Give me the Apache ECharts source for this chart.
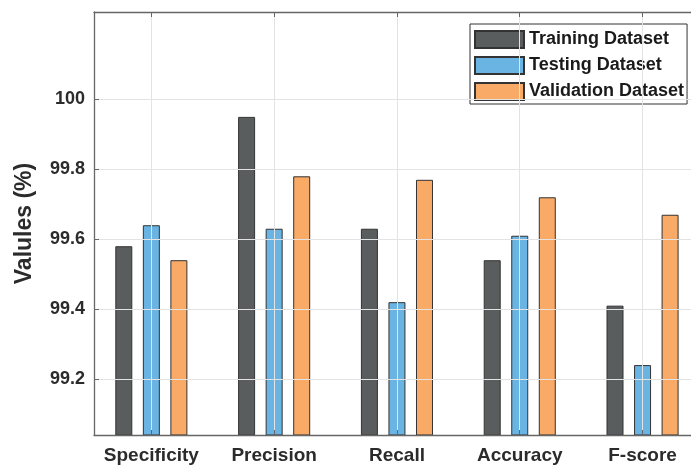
<!DOCTYPE html>
<html>
<head>
<meta charset="utf-8">
<script src="https://cdn.jsdelivr.net/npm/echarts@6/dist/echarts.min.js"></script>
<style>
    html, body { margin: 0; padding: 0; background: #fff; overflow: hidden; }
    #myCharts { width: 691px; height: 467px; }
</style>
</head>
<body>
<div id="myCharts"></div>
<script>
    // data
    const categories = ['Specificity', 'Precision', 'Recall', 'Accuracy', 'F-score'];
    const training = [99.58, 99.95, 99.63, 99.54, 99.41];
    const testing = [99.64, 99.63, 99.42, 99.61, 99.24];
    const validation = [99.54, 99.78, 99.77, 99.72, 99.67];
    const yTicks = [99.2, 99.4, 99.6, 99.8, 100];
    const xPos = [1, 2, 3, 4, 5];

    function pairs(vals) {
        return vals.map(function (v, i) { return [xPos[i], v]; });
    }

    const myCharts = echarts.init(document.getElementById('myCharts'));
    const frame = '#666';
    const txt = '#2b2b2b';
    const font = 'Liberation Sans, Arial, sans-serif';

    function barSeries(name, vals, color) {
        return {
            name: name,
            type: 'bar',
            xAxisIndex: 0,
            data: pairs(vals),
            barWidth: 17,
            barGap: '62%',
            animation: false,
            itemStyle: { color: color, borderColor: '#333', borderWidth: 1 }
        };
    }

    let options = {
        backgroundColor: '#fff',
        textStyle: { fontFamily: font },
        // the axes run past the right edge of the picture (it was cropped)
        grid: { left: 94, top: 12, width: 614, height: 423, containLabel: false, outerBoundsMode: 'none' },
        legend: {
            orient: 'vertical',
            left: 470, top: 24,
            padding: [6, 3, 3, 4],
            itemWidth: 49, itemHeight: 17, itemGap: 7,
            backgroundColor: '#fff',
            borderColor: '#333', borderWidth: 1, borderRadius: 0,
            icon: 'rect',
            textStyle: { fontSize: 18, lineHeight: 17, fontWeight: 'bold', color: '#1a1a1a', fontFamily: font },
            data: ['Training Dataset', 'Testing Dataset', 'Validation Dataset']
        },
        xAxis: [
            {   // bottom axis with category names
                type: 'value', position: 'bottom',
                min: 0.533, max: 5.533, z: 5,
                axisLine: { lineStyle: { color: frame, width: 1.3 } },
                axisTick: { show: true, inside: true, length: 5, customValues: xPos, lineStyle: { color: frame } },
                axisLabel: {
                    customValues: xPos, margin: 11,
                    fontSize: 19, fontWeight: 'bold', color: txt, fontFamily: font,
                    formatter: function (v) { return categories[Math.round(v) - 1]; }
                },
                splitLine: { show: true, lineStyle: { color: '#e3e3e3', width: 1 } }
            },
            {   // top frame
                type: 'value', position: 'top',
                min: 0.533, max: 5.533, z: 5,
                axisLine: { show: true, lineStyle: { color: frame, width: 1.3 } },
                axisTick: { show: true, inside: true, length: 5, customValues: xPos, lineStyle: { color: frame } },
                axisLabel: { show: false },
                splitLine: { show: false }
            }
        ],
        yAxis: {
            type: 'value',
            min: 99.04, max: 100.25, z: 5,
            name: 'Valules (%)',
            nameLocation: 'middle', nameRotate: 90, nameGap: 58,
            nameTextStyle: { fontSize: 23, fontWeight: 'bold', color: txt, fontFamily: font },
            axisLine: { show: true, lineStyle: { color: frame, width: 1.3 } },
            axisTick: { show: true, inside: true, length: 5, customValues: yTicks, lineStyle: { color: frame } },
            axisLabel: {
                customValues: yTicks, margin: 9,
                fontSize: 18, fontWeight: 'bold', color: txt, fontFamily: font,
                formatter: function (v) { return String(+v.toFixed(1)); }
            },
            splitLine: { show: true, lineStyle: { color: '#e3e3e3', width: 1 } }
        },
        series: [
            barSeries('Training Dataset', training, '#595d5e'),
            barSeries('Testing Dataset', testing, '#6ab4e4'),
            barSeries('Validation Dataset', validation, '#f9aa66')
        ]
    };
    myCharts.setOption(options);
</script>
</body>
</html>
